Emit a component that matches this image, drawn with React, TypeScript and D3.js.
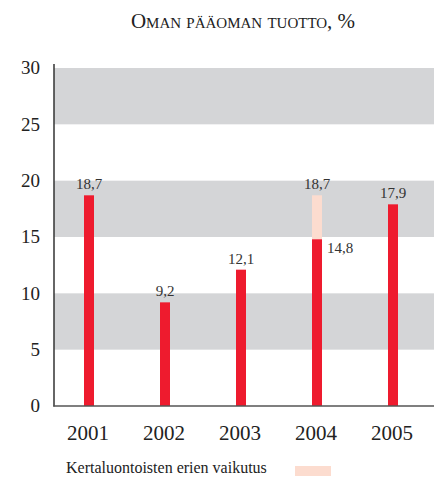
import React from "react";
import * as d3 from "d3";

const years = ["2001", "2002", "2003", "2004", "2005"];
const values = [18.7, 9.2, 12.1, 14.8, 17.9];
const oneOff = [0, 0, 0, 3.9, 0]; // 2004 incl. one-off items = 18.7
const totalLabels = ["18,7", "9,2", "12,1", "18,7", "17,9"];
const innerLabels = ["", "", "", "14,8", ""];
const yTicks = [0, 5, 10, 15, 20, 25, 30];
const bandRanges = [[5, 10], [15, 20], [25, 30]];

const W = 441, H = 478;
const axisX = 54, plotRight = 434;
const RED = "#ee1b2e", LIGHT = "#fcdccf", GREY = "#d4d5d7";
const FONT = "'Liberation Serif', 'DejaVu Serif', serif";

export default function App() {
  const y = d3.scaleLinear().domain([0, 30]).range([406, 68]);
  const x = d3.scalePoint<string>().domain(years).range([89, 393]);
  const bw = 10;
  return (
    <svg width={W} height={H} style={{ position: "absolute", left: 0, top: 0 }} fontFamily={FONT}>
      <rect width={W} height={H} fill="#fff" />
      <text x={243} y={28} textAnchor="middle" fontSize={21} fill="#222" style={{ fontVariant: "small-caps" }}>
        Oman pääoman tuotto, %
      </text>
      {bandRanges.map(([a, b], i) => (
        <rect key={i} x={axisX} y={y(b)} width={plotRight - axisX} height={y(a) - y(b)} fill={GREY} />
      ))}
      {yTicks.map((t) => (
        <text key={t} x={40} y={y(t)} dy="0.34em" textAnchor="end" fontSize={19} fill="#222">
          {t}
        </text>
      ))}
      {years.map((yr, i) => {
        const cx = x(yr)!;
        const top = values[i] + oneOff[i];
        return (
          <g key={yr}>
            {oneOff[i] > 0 && (
              <rect x={cx - bw / 2} y={y(top)} width={bw} height={y(values[i]) - y(top)} fill={LIGHT} />
            )}
            <rect x={cx - bw / 2} y={y(values[i])} width={bw} height={y(0) - y(values[i])} fill={RED} />
            <text x={cx} y={y(top) - 6} textAnchor="middle" fontSize={15} fill="#333">
              {totalLabels[i]}
            </text>
            {innerLabels[i] && (
              <text x={cx + 10} y={y(values[i]) + 14} fontSize={15} fill="#333">
                {innerLabels[i]}
              </text>
            )}
            <text x={cx - 1} y={440} textAnchor="middle" fontSize={21} fill="#222">
              {yr}
            </text>
          </g>
        );
      })}
      <line x1={axisX} x2={axisX} y1={64} y2={406.5} stroke="#333" strokeWidth={1.5} />
      <line x1={axisX - 0.75} x2={plotRight} y1={406} y2={406} stroke="#555" strokeWidth={1.5} />
      <text x={66} y={473} fontSize={16} fill="#222">Kertaluontoisten erien vaikutus</text>
      <rect x={295} y={466} width={36} height={10} fill={LIGHT} />
    </svg>
  );
}
